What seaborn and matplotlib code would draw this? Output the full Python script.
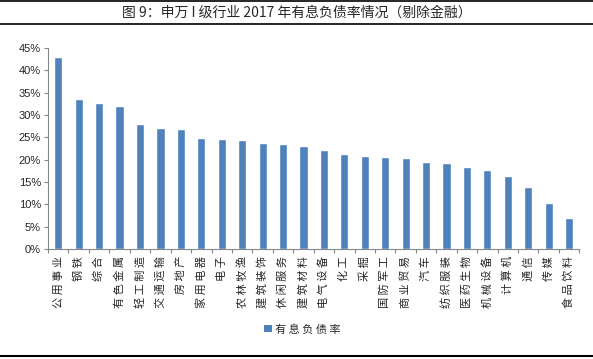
"""Interest-bearing debt ratio by SW level-1 industry, 2017."""

import numpy as np
import pandas as pd
import matplotlib.pyplot as plt
import seaborn as sns
from matplotlib.lines import Line2D
from matplotlib.patches import Patch
from matplotlib.ticker import PercentFormatter

industries = ['公用事业', '钢铁', '综合', '有色金属', '轻工制造', '交通运输', '房地产',
              '家用电器', '电子', '农林牧渔', '建筑装饰', '休闲服务', '建筑材料', '电气设备',
              '化工', '采掘', '国防军工', '商业贸易', '汽车', '纺织服装', '医药生物',
              '机械设备', '计算机', '通信', '传媒', '食品饮料']
debt_ratio = [43.0, 33.6, 32.8, 32.1, 28.0, 27.2, 26.9, 24.9, 24.7, 24.5, 23.8, 23.6, 23.1,
              22.2, 21.3, 20.9, 20.6, 20.4, 19.5, 19.3, 18.4, 17.7, 16.4, 13.9, 10.3, 7.0]
y_ticks = [0, 5, 10, 15, 20, 25, 30, 35, 40, 45]

title = '图 9：申万 I 级行业 2017 年有息负债率情况（剔除金融）'
series_name = '有息负债率'
bar_color = '#4F81BD'

sns.set_theme(style='white')
plt.rcParams['font.family'] = ['Noto Sans CJK SC', 'DejaVu Sans']

df = pd.DataFrame({'industry': industries, 'ratio': debt_ratio})

fig = plt.figure(figsize=(5.93, 3.59), dpi=100)
ax = fig.add_axes([0.081, 0.306, 0.896, 0.560])

sns.barplot(data=df, x='industry', y='ratio', color=bar_color, width=0.4,
            saturation=1, ax=ax)

n = len(industries)
ax.set_xlim(-0.5, n - 0.5)
ax.set_ylim(0, 45)
ax.set_yticks(y_ticks)
ax.yaxis.set_major_formatter(PercentFormatter(decimals=0))
ax.tick_params(axis='y', labelsize=8, length=3, width=0.8, color='#888888',
               pad=2, left=True)
for lbl in ax.get_yticklabels():
    lbl.set_fontfamily('Liberation Sans')
ax.set_xlabel('')
ax.set_ylabel('')

# labels read bottom-to-top, with a little letter spacing like the original
ax.set_xticks(range(n))
ax.set_xticklabels([' '.join(s) for s in industries], fontsize=8,
                   rotation=90, ha='center', va='top')
ax.tick_params(axis='x', length=0, pad=5)
ax.set_xticks(np.arange(-0.5, n, 1), minor=True)
ax.tick_params(axis='x', which='minor', length=3, width=0.8, color='#888888',
               bottom=True)

for side in ['top', 'right']:
    ax.spines[side].set_visible(False)
for side in ['left', 'bottom']:
    ax.spines[side].set_color('#888888')
    ax.spines[side].set_linewidth(0.8)

handle = Patch(facecolor=bar_color, edgecolor='none')
fig.legend([handle], [' '.join(series_name)], loc='center',
           bbox_to_anchor=(0.51, 0.083), frameon=False, fontsize=8,
           handlelength=0.7, handleheight=0.7, handletextpad=0.3)

# title box lines
fig.text(0.5, 0.965, title, ha='center', va='center', fontsize=10)
for yy, lw in [(0.997, 1.2), (0.933, 1.2), (0.008, 1.5)]:
    fig.add_artist(Line2D([0, 1], [yy, yy], color='black', lw=lw,
                          transform=fig.transFigure))

fig.savefig('out.png', dpi=100)
